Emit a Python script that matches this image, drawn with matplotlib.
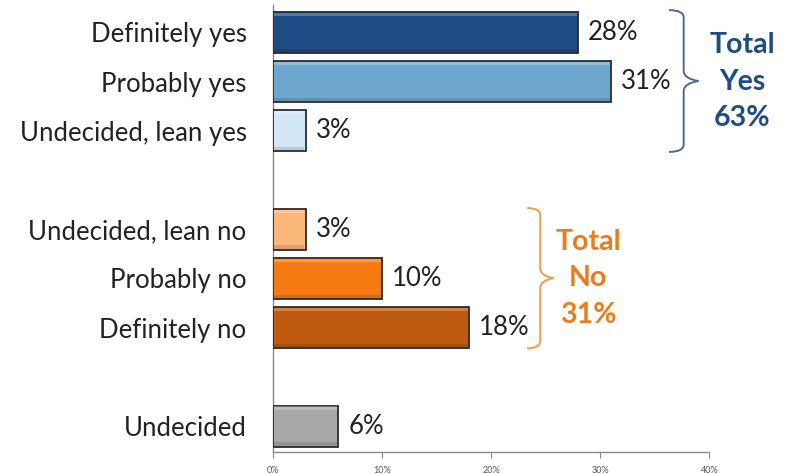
import matplotlib
matplotlib.use('Agg')
import matplotlib.pyplot as plt
from matplotlib.path import Path
from matplotlib.patches import PathPatch

# 数据
categories = ['Definitely yes', 'Probably yes', 'Undecided, lean yes', '',
              'Undecided, lean no', 'Probably no', 'Definitely no', '',
              'Undecided']
values = [28, 31, 3, None, 3, 10, 18, None, 6]
colors = ['#1f4b87', '#6da7cd', '#d2e6f4', None,
          '#fbb67a', '#f57b12', '#c05a0e', None, '#a8a8a8']
xticks = [0, 10, 20, 30, 40]
total_yes = 63
total_no = 31

plt.rcParams['font.family'] = ['Lato', 'DejaVu Sans']

fig = plt.figure(figsize=(7.89, 4.74), dpi=100)
ax = fig.add_axes([0.346, 0.046, 0.553, 0.943])

bar_h = 0.83
for i, (v, c) in enumerate(zip(values, colors)):
    if v is None:
        continue
    ax.barh(i, v, height=bar_h, color=c, edgecolor='#2b2b2b', linewidth=1.3, zorder=3)
    # 高光和阴影，模仿斜面效果
    ax.barh(i - bar_h / 2 + 0.05, v - 0.25, left=0.12, height=0.07, color='white',
            alpha=0.25, linewidth=0, zorder=4)
    ax.barh(i + bar_h / 2 - 0.05, v - 0.25, left=0.12, height=0.07, color='black',
            alpha=0.12, linewidth=0, zorder=4)
    ax.text(v + 0.9, i, f'{v}%', va='center', ha='left', fontsize=18.5, color='#222222')

ax.set_ylim(8.53, -0.55)
ax.set_xlim(0, 40)
ax.set_yticks([i for i, v in enumerate(values) if v is not None])
ax.set_yticklabels([c for c, v in zip(categories, values) if v is not None],
                   fontsize=18.5, color='#222222')
ax.tick_params(axis='y', length=0, pad=19)
ax.set_xticks(xticks)
ax.set_xticklabels([f'{t}%' for t in xticks], fontsize=6.5, color='#555555')
ax.tick_params(axis='x', length=4, color='#888888', pad=6)
for s in ['top', 'right']:
    ax.spines[s].set_visible(False)
for s in ['left', 'bottom']:
    ax.spines[s].set_color('#888888')
    ax.spines[s].set_linewidth(1.0)


def brace(ax, x0, x1, y0, y1, color):
    # 右向大括号, x0 为左侧, x1 为尖端
    ym = (y0 + y1) / 2
    xm = x0 + (x1 - x0) * 0.5
    verts = [(x0, y0), (xm, y0), (xm, y0 + 0.15), (xm, y0 + 0.35),
             (xm, ym - 0.2), (xm, ym - 0.05), (x1, ym),
             (xm, ym + 0.05), (xm, ym + 0.2),
             (xm, y1 - 0.35), (xm, y1 - 0.15), (xm, y1), (x0, y1)]
    codes = [Path.MOVETO, Path.CURVE3, Path.CURVE3, Path.LINETO,
             Path.LINETO, Path.CURVE3, Path.CURVE3,
             Path.CURVE3, Path.CURVE3,
             Path.LINETO, Path.LINETO, Path.CURVE3, Path.CURVE3]
    ax.add_patch(PathPatch(Path(verts, codes), fill=False, edgecolor=color,
                           linewidth=1.4, clip_on=False, zorder=5))


brace(ax, 36.3, 39.0, -0.45, 2.43, '#4a6b9b')
brace(ax, 23.3, 25.7, 3.57, 6.42, '#f59a4c')

ax.text(43.0, 1.0, f'Total\nYes\n{total_yes}%', ha='center', va='center',
        fontsize=20.5, fontweight='bold', color='#1f4b87', linespacing=1.5,
        clip_on=False)
ax.text(28.9, 5.0, f'Total\nNo\n{total_no}%', ha='center', va='center',
        fontsize=20.5, fontweight='bold', color='#f07a1a', linespacing=1.5,
        clip_on=False)

fig.savefig('out.png', dpi=100)
